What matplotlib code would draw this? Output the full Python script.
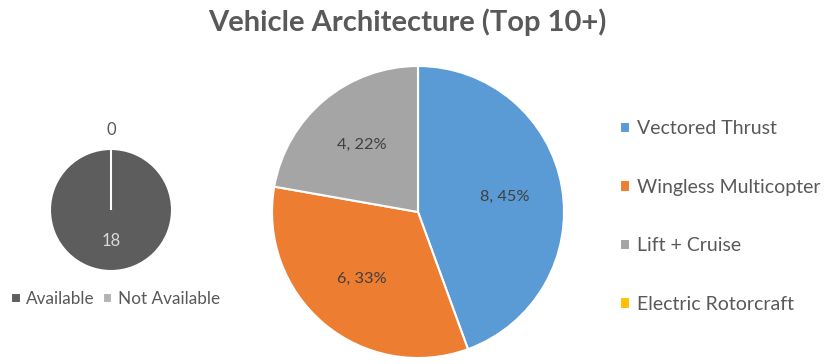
import matplotlib.pyplot as plt
import numpy as np

plt.rcParams['font.family'] = ['Lato', 'DejaVu Sans']

# 主饼图数据
arch_names = ['Vectored Thrust', 'Wingless Multicopter', 'Lift + Cruise', 'Electric Rotorcraft']
arch_counts = [8, 6, 4, 0]
arch_pcts = [45, 33, 22, 0]
arch_colors = ['#5b9bd5', '#ed7d31', '#a5a5a5', '#ffc000']

# 左侧小饼图数据
avail_names = ['Available', 'Not Available']
avail_counts = [18, 0]
avail_colors = ['#5d5d5d', '#b4b4b4']

W, H = 826, 364
fig = plt.figure(figsize=(W / 100, H / 100), dpi=100)


def px_axes(cx, cy, r):
    # 像素坐标 -> 画板坐标
    return fig.add_axes([(cx - r) / W, (H - cy - r) / H, 2 * r / W, 2 * r / H])


# 主饼图
ax = px_axes(418, 212, 146)
wedges, _ = ax.pie(arch_counts, colors=arch_colors, startangle=90, counterclock=False,
                   radius=1, wedgeprops=dict(edgecolor='white', linewidth=1.5))
for w, n, p in zip(wedges, arch_counts, arch_pcts):
    if n == 0:
        continue
    ang = np.deg2rad((w.theta1 + w.theta2) / 2)
    ax.text(0.6 * np.cos(ang), 0.6 * np.sin(ang), f'{n}, {p}%',
            ha='center', va='center', fontsize=11.8, color='#404040')
ax.set_xlim(-1, 1)
ax.set_ylim(-1, 1)
ax.set_aspect('auto')

fig.legend(wedges, arch_names, loc='upper left', bbox_to_anchor=(602 / W, 1 - 103 / H),
           frameon=False, fontsize=14, labelcolor='#595959', handlelength=0.55,
           handleheight=0.55, handletextpad=0.35, labelspacing=2.13)

# 左侧小饼图
ax2 = px_axes(111, 210, 61)
wedges2, _ = ax2.pie(avail_counts, colors=avail_colors, startangle=90, counterclock=False,
                     radius=1, wedgeprops=dict(edgecolor='white', linewidth=1.5))
for w, n in zip(wedges2, avail_counts):
    ang = np.deg2rad((w.theta1 + w.theta2) / 2)
    if n == 0:
        ax2.text(1.31 * np.cos(ang), 1.31 * np.sin(ang), str(n),
                 ha='center', va='center', fontsize=12, color='#595959')
    else:
        ax2.text(0.5 * np.cos(ang), 0.5 * np.sin(ang), str(n),
                 ha='center', va='center', fontsize=12, color='#d9d9d9')
ax2.set_xlim(-1, 1)
ax2.set_ylim(-1, 1)
ax2.set_aspect('auto')

fig.legend(wedges2, avail_names, loc='center left', bbox_to_anchor=(-4 / W, 1 - 299 / H),
           frameon=False, fontsize=12.3, labelcolor='#595959', handlelength=0.55,
           handleheight=0.55, handletextpad=0.3, columnspacing=0.5, ncol=2)

fig.text(407 / W, 1 - 22 / H, 'Vehicle Architecture (Top 10+)', ha='center', va='center',
         fontsize=21, fontweight='bold', color='#595959')

fig.savefig('out.png', dpi=100)
